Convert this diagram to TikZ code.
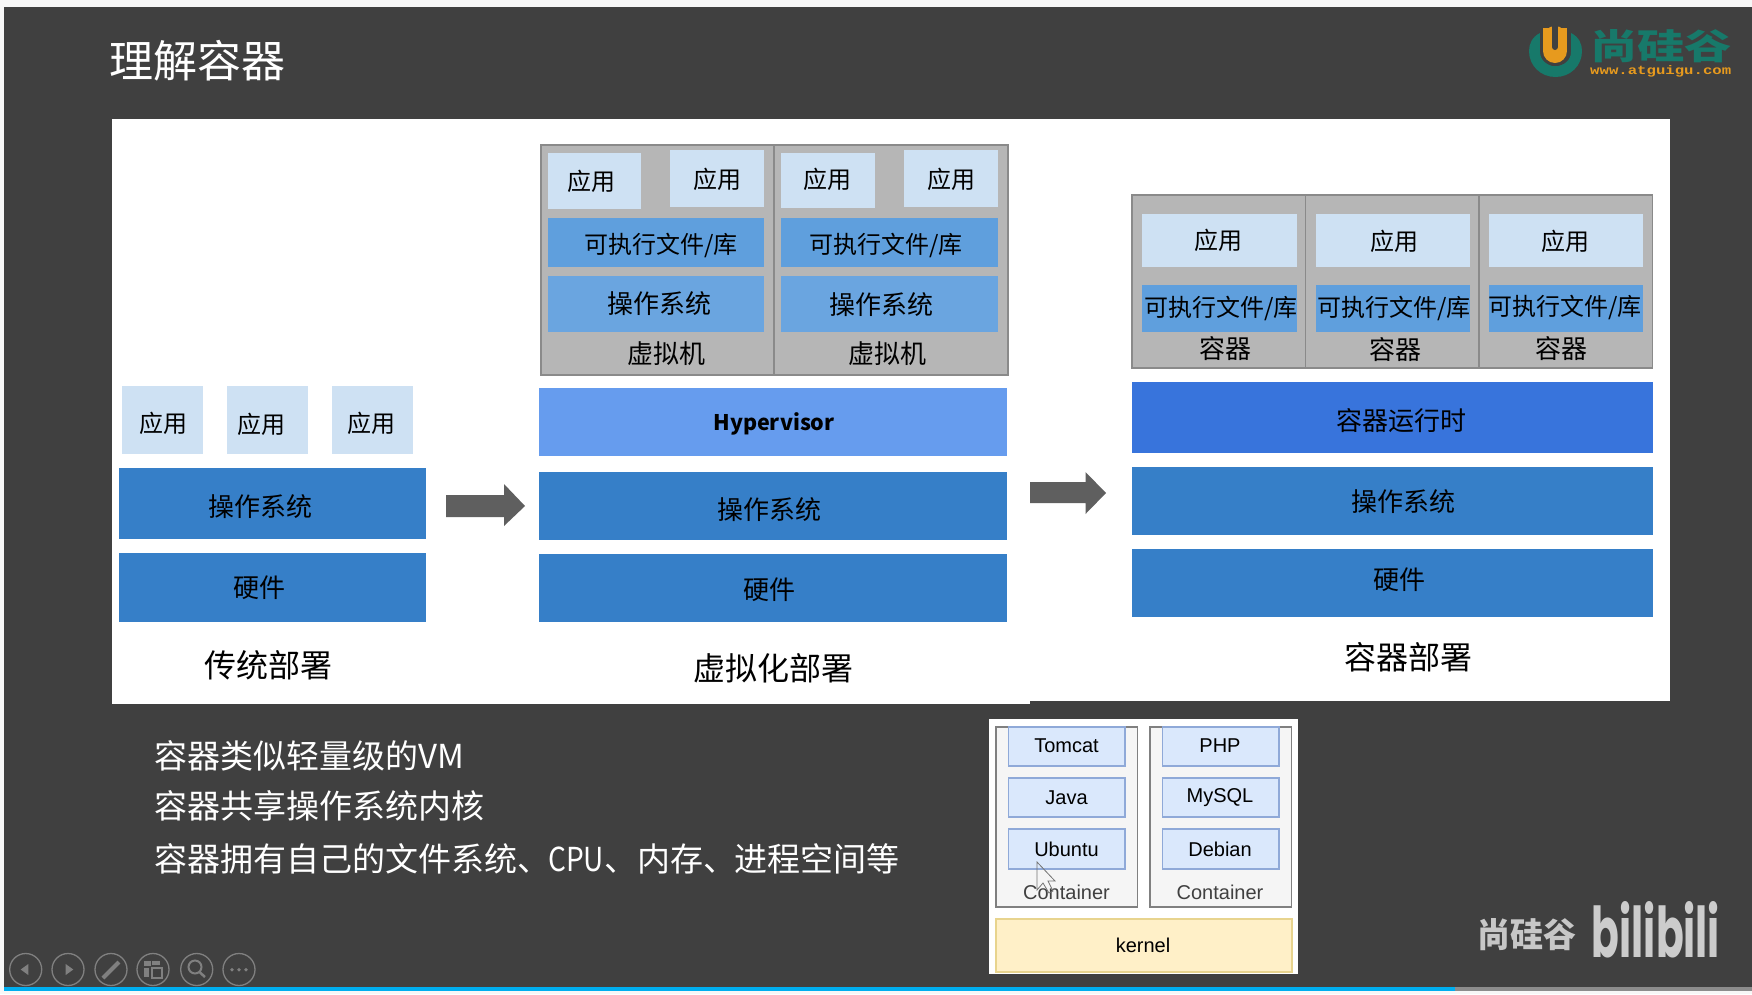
\documentclass[tikz,border=0pt]{standalone}
\usepackage{fontspec}
\setmainfont{Noto Sans CJK SC}
\newfontfamily\latinfont{Liberation Sans}
\newfontfamily\logofont{Poppins}
\newfontfamily\sitefont{Liberation Mono}
\usetikzlibrary{positioning, arrows.meta}
\definecolor{slidebg}{HTML}{404040}
\definecolor{appblue}{HTML}{CEE1F3}
\definecolor{osblue}{HTML}{367FC8}
\definecolor{execblue}{HTML}{5F9FDD}
\definecolor{guestblue}{HTML}{6AA5E0}
\definecolor{hyperblue}{HTML}{669CEE}
\definecolor{runtimeblue}{HTML}{3874DC}
\definecolor{frameback}{HTML}{B6B6B6}
\definecolor{frameline}{HTML}{8A8A8A}
\definecolor{arrowgray}{HTML}{5F5F5F}
\definecolor{logogreen}{HTML}{17796A}
\definecolor{logoorange}{HTML}{E79A1E}
\definecolor{layerfill}{HTML}{DAE8FC}
\definecolor{layerline}{HTML}{8FA9D8}
\definecolor{kernelfill}{HTML}{FFF0C8}
\definecolor{kernelline}{HTML}{E8D48E}
\definecolor{toolgray}{HTML}{808080}
\definecolor{barblue}{HTML}{00AEEF}
\tikzset{
	lab/.style={inner sep=0pt, text=black, font=\fontsize{24}{28}\selectfont},
	barlab/.style={inner sep=0pt, text=black, font=\fontsize{26}{30}\selectfont},
	biglab/.style={inner sep=0pt, text=black, font=\fontsize{32}{36}\selectfont},
	linetext/.style={inner sep=0pt, anchor=west, text=white, font=\fontsize{33}{38}\selectfont},
	smalllab/.style={inner sep=0pt, text=black, font=\fontsize{20}{24}\selectfont\latinfont},
	appbox/.style={fill=appblue},
	osbox/.style={fill=osblue},
	execbox/.style={fill=execblue},
	guestbox/.style={fill=guestblue},
	vmframe/.style={fill=frameback, draw=frameline, line width=1.5pt},
	bigarrow/.style={fill=arrowgray},
	stackbox/.style={fill=black!4, draw=black!50, line width=1.5pt},
	layerbox/.style={fill=layerfill, draw=layerline, line width=1.5pt},
	toolring/.style={draw=toolgray, line width=1.3pt},
	toolmark/.style={fill=toolgray},
}
\begin{document}
\begin{tikzpicture}
	[x=1pt, y=-1pt]
	\useasboundingbox (0,0) rectangle (1752,994);
	\fill[black!3] (0,0) rectangle (1752,994);
	\fill[slidebg] (4,7) rectangle (1752,987);
	\fill[barblue] (4,987) rectangle (1455,991);
	\fill[black!45] (1455,987) rectangle (1752,991);
	\node[inner sep=0pt, anchor=west, text=white, font=\fontsize{44}{50}\selectfont] (title) at (109,61) {理解容器};

	\fill[white] (112,119) rectangle (1670,701);
	\fill[white] (112,701) rectangle (1030,704);

	% traditional
	\path[appbox] (122,386) rectangle (203,454);
	\path[appbox] (227,386) rectangle (308,454);
	\path[appbox] (332,386) rectangle (413,454);
	\path[osbox] (118.5,468) rectangle (426,539);
	\path[osbox] (118.5,553) rectangle (426,622);
	\node[lab] (appA) at (163,423) {应用};
	\node[lab] (appB) at (261,424) {应用};
	\node[lab] (appC) at (371,423) {应用};
	\node[barlab] (osA) at (260,507) {操作系统};
	\node[barlab] (hwA) at (259,588) {硬件};
	\node[biglab] (capA) at (268,665) {传统部署};

	\path[bigarrow] (446,495) -- (504,495) -- (504,484) -- (525,506) -- (504,526) -- (504,517) -- (446,517) -- cycle;

	% virtual machines
	\path[vmframe] (541,145) rectangle (1008,375);
	\draw[frameline, line width=1.2pt] (774,145) -- (774,375);
	\path[appbox] (547.5,153) rectangle (641,209);
	\path[appbox] (670,150) rectangle (764,207);
	\path[appbox] (781,153) rectangle (875,208);
	\path[appbox] (904,150) rectangle (998,207);
	\path[execbox] (547.5,218) rectangle (764,267);
	\path[execbox] (781,218) rectangle (998,267);
	\path[guestbox] (547.5,276) rectangle (764,332);
	\path[guestbox] (781,276) rectangle (998,332);
	\node[lab] (vmappA) at (591,181) {应用};
	\node[lab] (vmappB) at (717,179) {应用};
	\node[lab] (vmappC) at (827,179) {应用};
	\node[lab] (vmappD) at (951,179) {应用};
	\node[lab] (vmexecA) at (661,245) {可执行文件/库};
	\node[lab] (vmexecB) at (886,245) {可执行文件/库};
	\node[barlab] (vmosA) at (659,304) {操作系统};
	\node[barlab] (vmosB) at (881.5,305) {操作系统};
	\node[barlab] (vmA) at (666,354) {虚拟机};
	\node[barlab] (vmB) at (887,354) {虚拟机};

	\path[fill=hyperblue] (539,388) rectangle (1007,456);
	\path[osbox] (539,472) rectangle (1007,540);
	\path[osbox] (539,554) rectangle (1007,622);
	\node[lab, font=\fontsize{21.5}{26}\selectfont\bfseries] (hyper) at (774,424) {Hypervisor};
	\node[barlab] (osB) at (769,510) {操作系统};
	\node[barlab] (hwB) at (769,590) {硬件};
	\node[biglab] (capB) at (773,668) {虚拟化部署};

	\path[bigarrow] (1030,482) -- (1085.5,482) -- (1085.5,472) -- (1106,493) -- (1085.5,514) -- (1085.5,503) -- (1030,503) -- cycle;

	% containers
	\path[vmframe] (1132,195) rectangle (1652.5,368);
	\draw[frameline, line width=1.2pt] (1305.6,195) -- (1305.6,368);
	\draw[frameline, line width=1.2pt] (1479,195) -- (1479,368);
	\path[appbox] (1142,214) rectangle (1297,267);
	\path[appbox] (1316,214) rectangle (1470,267);
	\path[appbox] (1489,214) rectangle (1643,267);
	\path[execbox] (1142,285) rectangle (1297,332);
	\path[execbox] (1316,285) rectangle (1470,332);
	\path[execbox] (1489,285) rectangle (1643,332);
	\node[lab] (ctappA) at (1218,240) {应用};
	\node[lab] (ctappB) at (1394,241) {应用};
	\node[lab] (ctappC) at (1565,241) {应用};
	\node[lab] (ctexecA) at (1221,308) {可执行文件/库};
	\node[lab] (ctexecB) at (1394,308) {可执行文件/库};
	\node[lab] (ctexecC) at (1565,307) {可执行文件/库};
	\node[barlab] (ctA) at (1225,349) {容器};
	\node[barlab] (ctB) at (1395.5,350) {容器};
	\node[barlab] (ctC) at (1561,349) {容器};

	\path[fill=runtimeblue] (1132,382) rectangle (1652.5,453);
	\path[osbox] (1132,467) rectangle (1652.5,535);
	\path[osbox] (1132,549) rectangle (1652.5,617);
	\node[barlab] (runtime) at (1401,421) {容器运行时};
	\node[barlab] (osC) at (1403,502) {操作系统};
	\node[barlab] (hwC) at (1399.5,580) {硬件};
	\node[biglab] (capC) at (1408,657) {容器部署};

	% notes
	\node[linetext] (noteA) at (154,756) {容器类似轻量级的VM};
	\node[linetext] (noteB) at (154,806) {容器共享操作系统内核};
	\node[linetext] (noteC) at (154,859) {容器拥有自己的文件系统、\hspace*{-2pt}\scalebox{0.85}[1]{CPU}、内存、\hspace*{-2pt}进程空间等};

	% small picture
	\fill[white] (989,719) rectangle (1298,974);
	\path[stackbox] (996,727) rectangle (1137.5,907);
	\path[stackbox] (1150,727) rectangle (1291.6,907);
	\path[layerbox] (1008.4,727) rectangle (1125,766);
	\path[layerbox] (1008.4,778) rectangle (1125,817);
	\path[layerbox] (1008.4,829) rectangle (1125,869);
	\path[layerbox] (1162.6,727) rectangle (1279,766);
	\path[layerbox] (1162.6,778) rectangle (1279,817);
	\path[layerbox] (1162.6,829) rectangle (1279,869);
	\path[fill=kernelfill, draw=kernelline, line width=2pt] (996,919) rectangle (1291.6,971.5);
	\node[smalllab] (tomcat) at (1066.5,746) {Tomcat};
	\node[smalllab] (java) at (1066.5,798) {Java};
	\node[smalllab] (ubuntu) at (1066.5,849) {Ubuntu};
	\node[smalllab] (php) at (1220,746) {PHP};
	\node[smalllab] (mysql) at (1220,798) {MySQL};
	\node[smalllab] (debian) at (1220,849) {Debian};
	\node[smalllab, text=black!75] (ctrA) at (1066.5,892) {Container};
	\node[smalllab, text=black!75] (ctrB) at (1220,892) {Container};
	\node[smalllab] (kernel) at (1143,945) {kernel};
	\draw[black!55, line width=0.8pt] (1037,862) -- (1037,890) -- (1043,883) -- (1049,893) -- (1053,891) -- (1048,881) -- (1055,881) -- cycle;

	% logos
	\fill[logogreen] (1540,33) .. controls (1532,37) and (1529,44) .. (1529,51) .. controls (1529,66) and (1541,77) .. (1555.5,77) .. controls (1570,77) and (1582,66) .. (1582,51) .. controls (1582,44) and (1579,37) .. (1571,33) -- (1571,52) .. controls (1571,60) and (1564,66) .. (1555.5,66) .. controls (1547,66) and (1540,60) .. (1540,52) -- cycle;
	\fill[slidebg] (1540,28) rectangle (1571,52);
	\draw[slidebg, line width=28pt, line cap=round] (1555,40) -- (1555,52);
	\draw[logoorange, line width=24pt, line cap=round] (1555,38) -- (1555,51);
	\fill[logoorange] (1543,28) rectangle (1567,40);
	\draw[slidebg, line width=6pt, line cap=round] (1555,26) -- (1555,47);
	\node[inner sep=0pt, anchor=base west, text height=30pt, text depth=0pt, text=logogreen] (brand) at (1590,59) {\resizebox{142pt}{30pt}{\bfseries 尚硅谷}};
	\node[inner sep=0pt, anchor=base west, text height=9pt, text depth=0pt, text=logoorange] (site) at (1590,74) {\resizebox{141pt}{9pt}{\sitefont\bfseries www.atguigu.com}};
	\node[inner sep=0pt, text=black!22] (brandB) at (1527,935) {\resizebox{99pt}{29pt}{\bfseries 尚硅谷}};
	\node[inner sep=0pt, text=black!20] (bili) at (1656,930) {\resizebox{128pt}{56pt}{\logofont\bfseries bilibili}};

	% toolbar
	\draw[toolring] (25.7,969.5) circle (16pt);
	\draw[toolring] (68,969.5) circle (16pt);
	\draw[toolring] (111,969.5) circle (16pt);
	\draw[toolring] (153,969.5) circle (16pt);
	\draw[toolring] (196.7,969.5) circle (16pt);
	\draw[toolring] (239,969.5) circle (16pt);
	\path[toolmark] (20.7,969.5) -- (28.3,964) -- (28.3,975) -- cycle;
	\path[toolmark] (73.3,969.5) -- (65.7,964) -- (65.7,975) -- cycle;
	\draw[toolgray, line width=4pt] (103,978) -- (119,962);
	\fill[toolgray] (144,961) rectangle (151,966);
	\fill[toolgray] (152,961) rectangle (160,965);
	\fill[toolgray] (144,968) rectangle (149,977);
	\draw[toolgray, line width=1.5pt] (152,968) rectangle (162,978);
	\draw[toolgray, line width=2pt] (195,967) circle (6.5pt);
	\draw[toolgray, line width=2.5pt] (199.5,972) -- (205,977);
	\fill[toolgray] (232,969.7) circle (1.8pt);
	\fill[toolgray] (239,969.7) circle (1.8pt);
	\fill[toolgray] (246,969.7) circle (1.8pt);
\end{tikzpicture}
\end{document}
